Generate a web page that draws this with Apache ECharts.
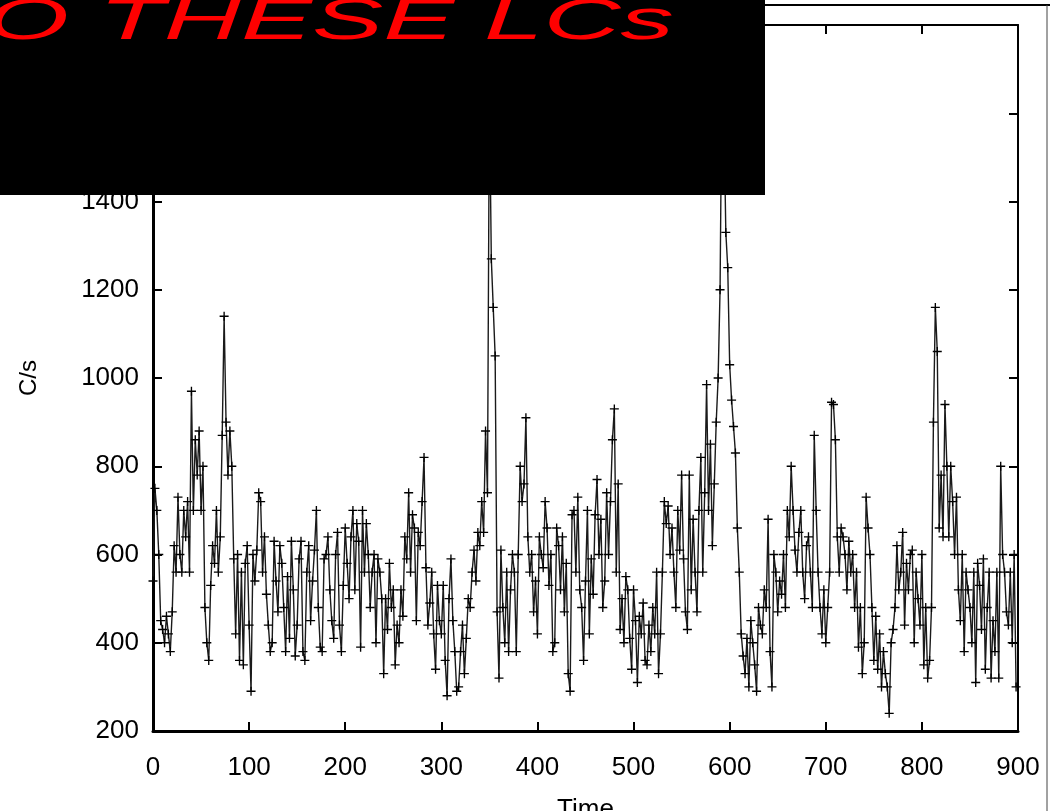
<!DOCTYPE html>
<html>
<head>
<meta charset="utf-8">
<script src="https://cdn.jsdelivr.net/npm/echarts@6/dist/echarts.min.js"></script>
<style>
html,body{margin:0;padding:0;background:#fff;}
#chart{width:1050px;height:811px;}
</style>
</head>
<body>
<div id="chart"></div>
<script>
// Light curve, 2-second bins starting at t = 0 s (count rate in C/s)
const binSeconds = 2;
const countRate = [
540,750,700,600,450,430,400,460,420,380,470,620,560,730,600,560,700,640,720,560,970,700,860,780,880,
700,800,480,400,360,530,620,580,700,560,640,870,1140,900,780,880,800,590,420,600,360,560,350,580,620,
440,290,600,540,610,740,720,560,640,510,440,380,400,630,540,470,620,580,480,380,550,410,630,520,370,
440,590,630,380,360,560,620,450,540,610,700,480,390,380,590,600,640,520,450,410,600,650,440,380,530,
660,580,500,640,700,520,670,630,390,700,560,670,600,480,560,600,400,590,560,500,330,500,430,580,480,
520,350,440,400,520,460,640,590,740,560,690,660,450,650,620,720,820,570,440,490,560,420,340,530,450,
420,530,360,280,500,590,450,380,290,300,380,440,330,410,500,480,560,610,540,650,620,720,650,880,740,
1650,1270,1160,1050,470,320,610,480,400,560,380,520,600,560,380,600,800,720,760,910,640,560,600,470,540,
420,640,600,570,720,660,530,600,380,400,660,620,520,640,470,580,330,290,690,700,560,730,520,480,360,
540,700,420,590,510,690,770,600,680,480,540,740,600,720,860,930,560,760,430,500,400,550,520,410,340,
520,450,310,460,420,490,360,350,440,380,480,420,560,330,420,560,720,670,710,600,660,560,480,700,610,
780,590,470,430,780,520,680,560,470,700,820,560,740,985,700,850,620,760,900,1000,1200,1700,1600,1330,1250,
1030,950,890,830,660,560,420,370,330,410,300,450,400,350,290,480,440,420,520,480,680,380,300,600,560,
470,540,510,600,480,700,640,800,700,610,560,650,700,560,500,620,640,560,480,870,700,560,480,420,520,
400,480,560,945,940,860,640,560,660,640,600,520,630,560,600,480,560,390,480,330,400,730,660,600,480,
360,460,340,420,300,380,330,300,240,400,430,480,620,520,560,650,440,580,520,600,610,400,560,500,440,
600,350,480,320,360,480,900,1160,1060,660,780,640,940,800,640,800,720,600,730,520,450,600,380,560,520,
480,400,560,310,580,530,430,590,340,480,560,320,450,380,560,320,800,600,560,470,440,560,400,600,300
];
const xTicks = [0,100,200,300,400,500,600,700,800,900];
const yTicks = [200,400,600,800,1000,1200,1400,1600,1800];
const xTitle = 'Time';
const yTitle = 'C/s';
const bannerText = 'O THESE LCs';

const times = countRate.map((_, i) => i * binSeconds);
const seriesData = times.map((t, i) => [t, countRate[i]]);

const chart = echarts.init(document.getElementById('chart'), null, {renderer: 'canvas'});
const FONT = 'Liberation Sans, Arial, Helvetica, sans-serif';
const plusPath = 'path://M0,4.25 L10,4.25 L10,5.75 L0,5.75 Z M4.25,0 L5.75,0 L5.75,10 L4.25,10 Z';

const option = {
  backgroundColor: '#ffffff',
  animation: false,
  grid: {left: 153, right: 32, top: 25, bottom: 80, containLabel: false, outerBoundsMode: 'none'},
  xAxis: [{
    type: 'value', min: xTicks[0], max: xTicks[xTicks.length-1], interval: 100,
    name: xTitle, nameLocation: 'middle', nameGap: 66,
    nameTextStyle: {fontFamily: FONT, fontSize: 26, color: '#000', verticalAlign: 'top'},
    axisLine: {show: true, onZero: false, lineStyle: {color: '#000', width: 3}},
    axisTick: {show: true, inside: true, length: 9, lineStyle: {color: '#000', width: 2}},
    axisLabel: {fontFamily: FONT, fontSize: 26, color: '#000', margin: 24, formatter: v => String(v)},
    splitLine: {show: false}
  }, {
    type: 'value', position: 'top', min: xTicks[0], max: xTicks[xTicks.length-1], interval: 100,
    axisLine: {show: true, onZero: false, lineStyle: {color: '#000', width: 2}},
    axisTick: {show: true, inside: true, length: 9, lineStyle: {color: '#000', width: 2}},
    axisLabel: {show: false}, splitLine: {show: false}
  }],
  yAxis: [{
    type: 'value', min: yTicks[0], max: yTicks[yTicks.length-1], interval: 200,
    name: yTitle, nameLocation: 'middle', nameGap: 112, nameRotate: 90,
    nameTextStyle: {fontFamily: FONT, fontSize: 24, color: '#000'},
    axisLine: {show: true, onZero: false, lineStyle: {color: '#000', width: 3}},
    axisTick: {show: true, inside: true, length: 9, lineStyle: {color: '#000', width: 2}},
    axisLabel: {fontFamily: FONT, fontSize: 26, color: '#000', margin: 14, formatter: v => String(v)},
    splitLine: {show: false}
  }, {
    type: 'value', position: 'right', min: yTicks[0], max: yTicks[yTicks.length-1], interval: 200,
    axisLine: {show: true, onZero: false, lineStyle: {color: '#000', width: 2}},
    axisTick: {show: true, inside: true, length: 9, lineStyle: {color: '#000', width: 2}},
    axisLabel: {show: false}, splitLine: {show: false}
  }],
  series: [{
    type: 'line', xAxisIndex: 0, yAxisIndex: 0,
    data: seriesData,
    showSymbol: true, showAllSymbol: true,
    symbol: plusPath, symbolSize: 9,
    itemStyle: {color: '#000'},
    lineStyle: {color: '#1a1a1a', width: 1.4},
    clip: true
  }],
  graphic: [
    {type: 'line', z: 50, shape: {x1: 765, y1: 5, x2: 1050, y2: 5}, style: {stroke: '#000', lineWidth: 2}},
    {type: 'line', z: 50, shape: {x1: 1047, y1: 5, x2: 1047, y2: 811}, style: {stroke: '#444', lineWidth: 1}},
    {type: 'rect', z: 100, shape: {x: 0, y: 0, width: 765, height: 195}, style: {fill: '#000'}},
    {type: 'text', z: 101, x: -14, y: 52, scaleX: 1.84, scaleY: 1,
      style: {text: bannerText, fill: '#ff0000', font: 'italic 58px ' + FONT, verticalAlign: 'bottom', align: 'left'}}
  ]
};
chart.setOption(option);
</script>
</body>
</html>
